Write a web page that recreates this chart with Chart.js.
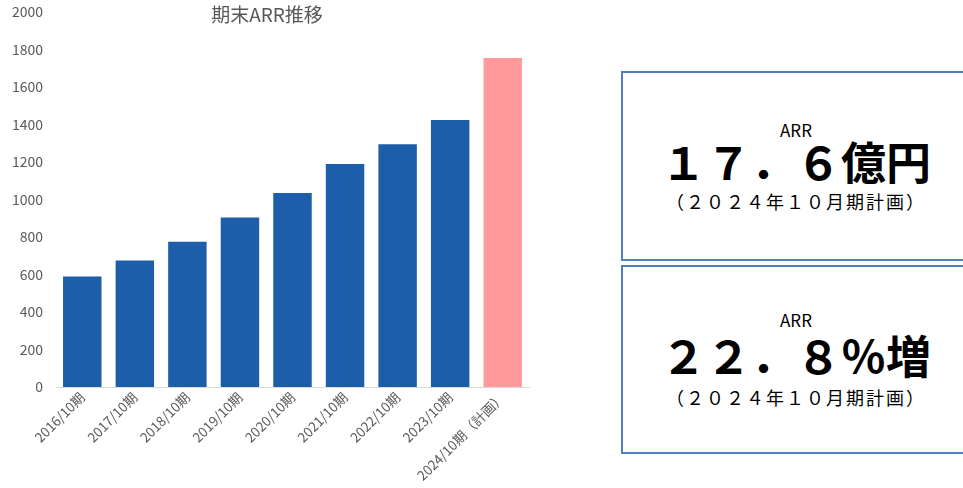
<!DOCTYPE html>
<html>
<head>
<meta charset="utf-8">
<script src="https://cdn.jsdelivr.net/npm/chart.js@4.4.0/dist/chart.umd.min.js"></script>
<style>
  body { margin: 0; background: #fff; width: 963px; height: 488px; overflow: hidden; position: relative;
         font-family: "Noto Sans CJK JP", "Noto Sans", sans-serif; }
  #wrap { position: absolute; left: 0; top: 0; width: 545px; height: 488px; }
  .box { position: absolute; left: 621px; width: 350px; border: 2px solid #4f7fbf; box-sizing: border-box;
         text-align: center; color: #000; }
  .box .lbl { position: absolute; left: 0; right: 0; font-size: 17px; }
  .box .big { position: absolute; left: 0; right: 0; font-size: 45px; font-weight: bold; }
  .box .sub { position: absolute; left: 0; right: 0; font-size: 18px; letter-spacing: 2px; }
</style>
</head>
<body>
<div id="wrap"><canvas id="arrChart"></canvas></div>

<div class="box" style="top:71px;height:190px;">
  <div class="lbl" style="top:44px;">ARR</div>
  <div class="big" style="top:55px;">１７．６億円</div>
  <div class="sub" style="top:115px;">（２０２４年１０月期計画）</div>
</div>
<div class="box" style="top:265px;height:189px;">
  <div class="lbl" style="top:40px;">ARR</div>
  <div class="big" style="top:55px;">２２．８％増</div>
  <div class="sub" style="top:117px;">（２０２４年１０月期計画）</div>
</div>

<script>
var periods = ["2016/10期", "2017/10期", "2018/10期", "2019/10期", "2020/10期",
               "2021/10期", "2022/10期", "2023/10期", "2024/10期（計画）"];
var arrValues = [595, 680, 780, 910, 1040, 1195, 1300, 1430, 1760];
var barColors = ["#1c5ea9", "#1c5ea9", "#1c5ea9", "#1c5ea9", "#1c5ea9",
                 "#1c5ea9", "#1c5ea9", "#1c5ea9", "#ff999b"];
var chartTitle = "期末ARR推移";

var titlePlugin = {
    id: "titleText",
    afterDraw: function (chart) {
        var ctx = chart.ctx;
        ctx.save();
        ctx.font = "19px 'Noto Sans CJK JP'";
        ctx.fillStyle = "#595959";
        ctx.textAlign = "center";
        ctx.textBaseline = "middle";
        ctx.fillText(chartTitle, 267, 15);
        ctx.restore();
    }
};

function makeChart() {
    var canvas = document.getElementById("arrChart");
    new Chart(canvas, {
        type: "bar",
        data: {
            labels: periods,
            datasets: [{
                label: "ARR",
                data: arrValues,
                backgroundColor: barColors,
                borderColor: "rgba(255,255,255,0.6)",
                borderWidth: 1,
                categoryPercentage: 1,
                barPercentage: 0.77
            }]
        },
        options: {
            responsive: true,
            maintainAspectRatio: false,
            animation: false,
            layout: { padding: { top: 12, right: 16, left: 0, bottom: 0 } },
            plugins: {
                legend: { display: false },
                tooltip: { enabled: false }
            },
            scales: {
                y: {
                    min: 0,
                    max: 2000,
                    ticks: { stepSize: 200, color: "#595959", font: { size: 14, family: "'Noto Sans CJK JP'" }, padding: 13,
                             callback: function (v) { return String(v); } },
                    grid: { display: false, drawTicks: false },
                    border: { display: false },
                    afterFit: function (axis) { axis.width = 56; axis.paddingTop = 0; }
                },
                x: {
                    ticks: { color: "#595959", font: { size: 13.5, family: "'Noto Sans CJK JP'" },
                             minRotation: 45, maxRotation: 45, autoSkip: false, padding: 2 },
                    grid: { display: false, drawTicks: false },
                    border: { display: true, color: "#d9d9d9", width: 1 },
                    afterFit: function (axis) { axis.height = 101; }
                }
            }
        },
        plugins: [titlePlugin]
    });
}

document.addEventListener("DOMContentLoaded", makeChart);
</script>
</body>
</html>
